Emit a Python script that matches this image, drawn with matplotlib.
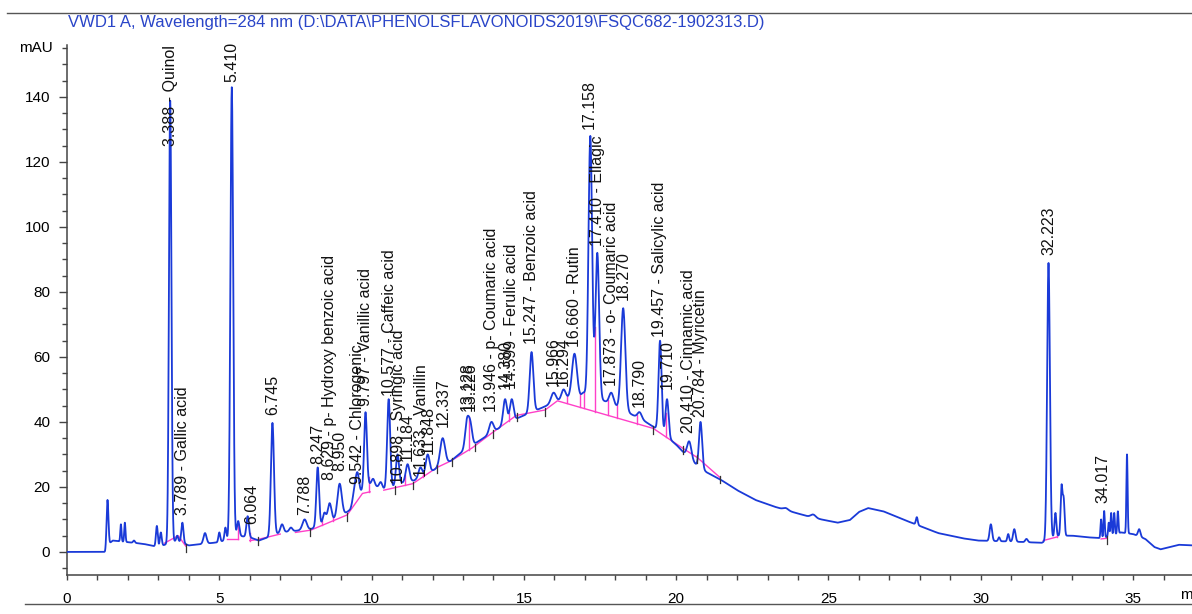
import numpy as np
import matplotlib
matplotlib.use("Agg")
import matplotlib.pyplot as plt
from matplotlib.lines import Line2D
from matplotlib.ticker import MultipleLocator

# underlying drift of the trace (min, mAU)
hump_t = [0, 1.25, 1.32, 1.5, 2.0, 2.5, 3.0, 3.3, 3.6, 4.0, 4.5, 5.0, 5.3, 5.6, 6.0, 6.3, 6.6,
          7.0, 7.5, 8.0, 8.5, 9.0, 9.3, 9.6, 9.9, 10.2, 10.5, 10.9, 11.4, 12.0, 12.6, 13.0,
          13.5, 14.0, 14.5, 15.0, 15.5, 16.0, 16.5, 17.0, 17.5, 18.0, 18.5, 19.0, 19.5, 20.0,
          20.5, 21.0, 21.5, 22.0, 22.6, 23.2, 23.7, 24.5, 25.3, 25.7, 26.0, 26.3, 26.8, 27.5,
          28.6, 29.4, 29.9, 31.0, 32.0, 32.5, 33.0, 33.5, 34.0, 34.6, 35.0, 35.4, 35.7, 35.9,
          36.2, 36.5, 37.0]
hump_y = [0, 0, 2, 3.5, 3, 2.5, 1.5, 2.5, 3.5, 2, 2.5, 3, 4, 5, 4.5, 3.5, 4.5,
          6, 6.5, 7, 9, 11, 13, 18, 21, 20, 19, 21, 22, 25, 28, 31,
          34, 37, 40, 42, 44, 46, 47.5, 48, 47, 45, 42.5, 40, 37, 33,
          28, 24.5, 22, 19, 16, 14, 12.6, 10.5, 9, 9.8, 12.3, 13.5, 12.5, 9.8,
          5.8, 4.2, 3.5, 3.2, 2.8, 5, 5, 4.5, 4.2, 6, 5.5, 4, 1.5, 0.8,
          1.5, 2.2, 2]

# peaks: retention time, apex (mAU), half width (min)
peak_t = [1.33, 1.77, 1.9, 2.2, 2.95, 3.08, 3.388, 3.62, 3.789, 4.53, 5.0, 5.2, 5.41, 5.62,
          5.93, 6.745, 7.06, 7.35, 7.8, 8.23, 8.45, 8.62, 8.95, 9.45, 9.54, 9.8, 10.05, 10.3,
          10.56, 10.85, 11.18, 11.6, 11.84, 12.33, 13.13, 13.24, 13.93, 14.38, 14.6, 15.25,
          15.97, 16.3, 16.66, 16.95, 17.18, 17.41, 17.87, 18.26, 18.8, 19.47, 19.7, 20.43,
          20.8, 23.6, 24.5, 27.9, 30.33, 30.6, 30.9, 31.1, 31.5, 32.223, 32.45, 32.65, 32.72,
          33.95, 34.05, 34.2, 34.28, 34.38, 34.5, 34.8, 35.2]
peak_top = [16, 8.5, 9, 3.5, 8, 6, 139, 5, 9, 5.8, 6, 7.5, 143, 9.5,
            11, 39.7, 8.5, 7.5, 10, 26, 12, 15, 21, 20, 23, 43, 22.5, 21.5,
            47, 30, 27, 26, 30, 35, 40, 39, 40, 47, 47, 61.5,
            49, 50, 61, 49, 128, 92, 49, 75, 43, 65, 47, 34,
            40, 13.5, 11.5, 10.7, 8.5, 4.5, 5.5, 7, 4, 89, 12, 20, 16,
            10, 12.6, 9, 12, 12, 12.5, 30, 7]
peak_w = [0.03, 0.02, 0.02, 0.03, 0.03, 0.03, 0.04, 0.03, 0.035, 0.05, 0.03, 0.03, 0.045, 0.04,
          0.04, 0.05, 0.05, 0.05, 0.07, 0.045, 0.05, 0.06, 0.07, 0.06, 0.05, 0.045, 0.05, 0.05,
          0.05, 0.05, 0.06, 0.06, 0.06, 0.08, 0.06, 0.06, 0.07, 0.06, 0.06, 0.06,
          0.08, 0.07, 0.08, 0.05, 0.06, 0.06, 0.07, 0.07, 0.07, 0.05, 0.05, 0.07,
          0.05, 0.08, 0.08, 0.03, 0.04, 0.03, 0.03, 0.04, 0.04, 0.045, 0.03, 0.03, 0.03,
          0.02, 0.02, 0.02, 0.02, 0.02, 0.02, 0.02, 0.04]

# peak annotations: time, text, bottom of text (mAU)
label_t = [3.388, 3.789, 5.410, 6.064, 6.745, 7.788, 8.247, 8.629, 8.950, 9.542, 9.797,
           10.577, 10.898, 11.184, 11.633, 11.848, 12.337, 13.128, 13.226, 13.946, 14.380,
           14.599, 15.247, 15.966, 16.294, 16.660, 17.158, 17.410, 17.873, 18.270, 18.790,
           19.457, 19.710, 20.410, 20.784, 32.223, 34.017]
label_txt = ["3.388 - Quinol", "3.789 - Gallic acid", "5.410", "6.064", "6.745", "7.788",
             "8.247", "8.629 - p- Hydroxy benzoic acid", "8.950", "9.542 - Chlorogenic",
             "9.797 - Vanillic acid", "10.577 - Caffeic acid", "10.898 - Syringic acid",
             "11.184", "11.633 - Vanillin", "11.848", "12.337", "13.128", "13.226",
             "13.946 - p- Coumaric acid", "14.380", "14.599 - Ferulic acid",
             "15.247 - Benzoic acid", "15.966", "16.294", "16.660 - Rutin", "17.158",
             "17.410 - Ellagic", "17.873 - o- Coumaric acid", "18.270", "18.790",
             "19.457 - Salicylic acid", "19.710", "20.410 - Cinnamic acid",
             "20.784 - Myricetin", "32.223", "34.017"]
label_y = [125, 11.5, 144.5, 8.5, 42, 11.5, 27, 22, 25, 21, 45,
           48, 21, 28, 23, 30, 38.5, 43.5, 43.5, 43, 50,
           50, 64, 51, 51, 63, 130, 94, 51, 77.5, 44.6,
           66, 50, 36.6, 41.5, 91.4, 15]

# integration baselines (magenta)
base_segs = [
    [(3.2, 2.7), (3.65, 5), (3.9, 1.8)],
    [(5.25, 4), (5.6, 4)],
    [(6.0, 3.5), (6.25, 3.8), (7.0, 5.5)],
    [(7.5, 6), (8.0, 6.7), (9.2, 11.4), (9.7, 18), (9.95, 18.5)],
    [(10.4, 19), (11.35, 21), (12.15, 26), (12.6, 28), (13.3, 32), (13.95, 36.6),
     (14.75, 42), (15.7, 43.7), (16.1, 46.5), (19.25, 38), (20.2, 32), (20.7, 29),
     (21.45, 22.8)],
    [(32.05, 3.5), (32.5, 4.6)],
    [(33.95, 4), (34.15, 4.2)],
]
drop_t = [3.62, 5.6, 6.0, 8.37, 8.73, 9.9, 11.1, 11.7, 13.2, 14.5, 16.4, 16.85, 16.97,
          17.33, 17.75, 18.05, 18.7, 19.65, 32.5]
mark_t = [3.9, 6.28, 7.98, 9.19, 10.77, 11.36, 12.15, 12.64, 13.4, 14.0, 14.77, 15.69,
          19.24, 20.22, 20.68, 21.44, 34.15]

t = np.linspace(0, 37, 7401)
signal = np.interp(t, hump_t, hump_y)
for pt, top, w in zip(peak_t, peak_top, peak_w):
    amp = top - np.interp(pt, hump_t, hump_y)
    signal = signal + amp * np.exp(-0.5 * ((t - pt) / w) ** 2)

bx = [p[0] for s in base_segs for p in s]
by = [p[1] for s in base_segs for p in s]


def base_at(x):
    for s in base_segs:
        xs = [p[0] for p in s]
        if xs[0] <= x <= xs[-1]:
            return np.interp(x, xs, [p[1] for p in s])
    return np.interp(x, bx, by)


fonts = ["Liberation Sans", "DejaVu Sans"]
plt.rcParams["font.family"] = fonts

W, H = 1192, 614
fig = plt.figure(figsize=(W / 100, H / 100), dpi=100)
ax = fig.add_axes([67 / W, 39 / H, 1 - 67 / W, (575 - 45) / H])

blue = "#1a3ad8"
pink = "#ff40c8"

ax.plot(t, signal, color=blue, lw=1.3, zorder=3)
for s in base_segs:
    ax.plot([p[0] for p in s], [p[1] for p in s], color=pink, lw=1.0, zorder=2)
for d in drop_t:
    ax.plot([d, d], [base_at(d), np.interp(d, t, signal)], color=pink, lw=1.0, zorder=2)
for m in mark_t:
    b = base_at(m)
    ax.plot([m, m], [b - 1.8, b + 0.6], color="#333333", lw=0.9, zorder=4)

for lt, txt, ly in zip(label_t, label_txt, label_y):
    ax.text(lt, ly, txt, rotation=90, ha="center", va="bottom", fontsize=11.5,
            color="#111111", zorder=5)

ax.set_xlim(0, (W - 67) / 30.46)
ax.set_ylim(-7.1, 156)
ax.spines["top"].set_visible(False)
ax.spines["right"].set_visible(False)
for sp in ("left", "bottom"):
    ax.spines[sp].set_color("#444444")
    ax.spines[sp].set_linewidth(1.1)

ax.xaxis.set_major_locator(MultipleLocator(5))
ax.xaxis.set_minor_locator(MultipleLocator(1))
ax.yaxis.set_minor_locator(MultipleLocator(5))
ax.set_yticks([0, 20, 40, 60, 80, 100, 120, 140])
ax.tick_params(axis="y", which="major", length=6, width=1, color="#444444",
               labelsize=11, pad=6)
ax.tick_params(axis="y", which="minor", length=3.5, width=1, color="#444444")
ax.tick_params(axis="x", which="both", length=3.5, width=1, color="#444444",
               labelsize=11, pad=9)
ax.text(-0.46, 155, "mAU", ha="right", va="center", fontsize=11, clip_on=False)
ax.text(36.55, -13.2, "min", ha="left", va="center", fontsize=11, clip_on=False)

fig.text(68 / W, 1 - 22 / H,
         r"VWD1 A, Wavelength=284 nm (D:\DATA\PHENOLSFLAVONOIDS2019\FSQC682-1902313.D)",
         color="#2a45c8", fontsize=12, ha="left", va="center")
fig.add_artist(Line2D([7 / W, 1], [1 - 13 / H, 1 - 13 / H], color="#555555", lw=1.0))
fig.add_artist(Line2D([25 / W, 1], [1 - 604 / H, 1 - 604 / H], color="#555555", lw=1.0))

fig.savefig("out.png", dpi=100)
